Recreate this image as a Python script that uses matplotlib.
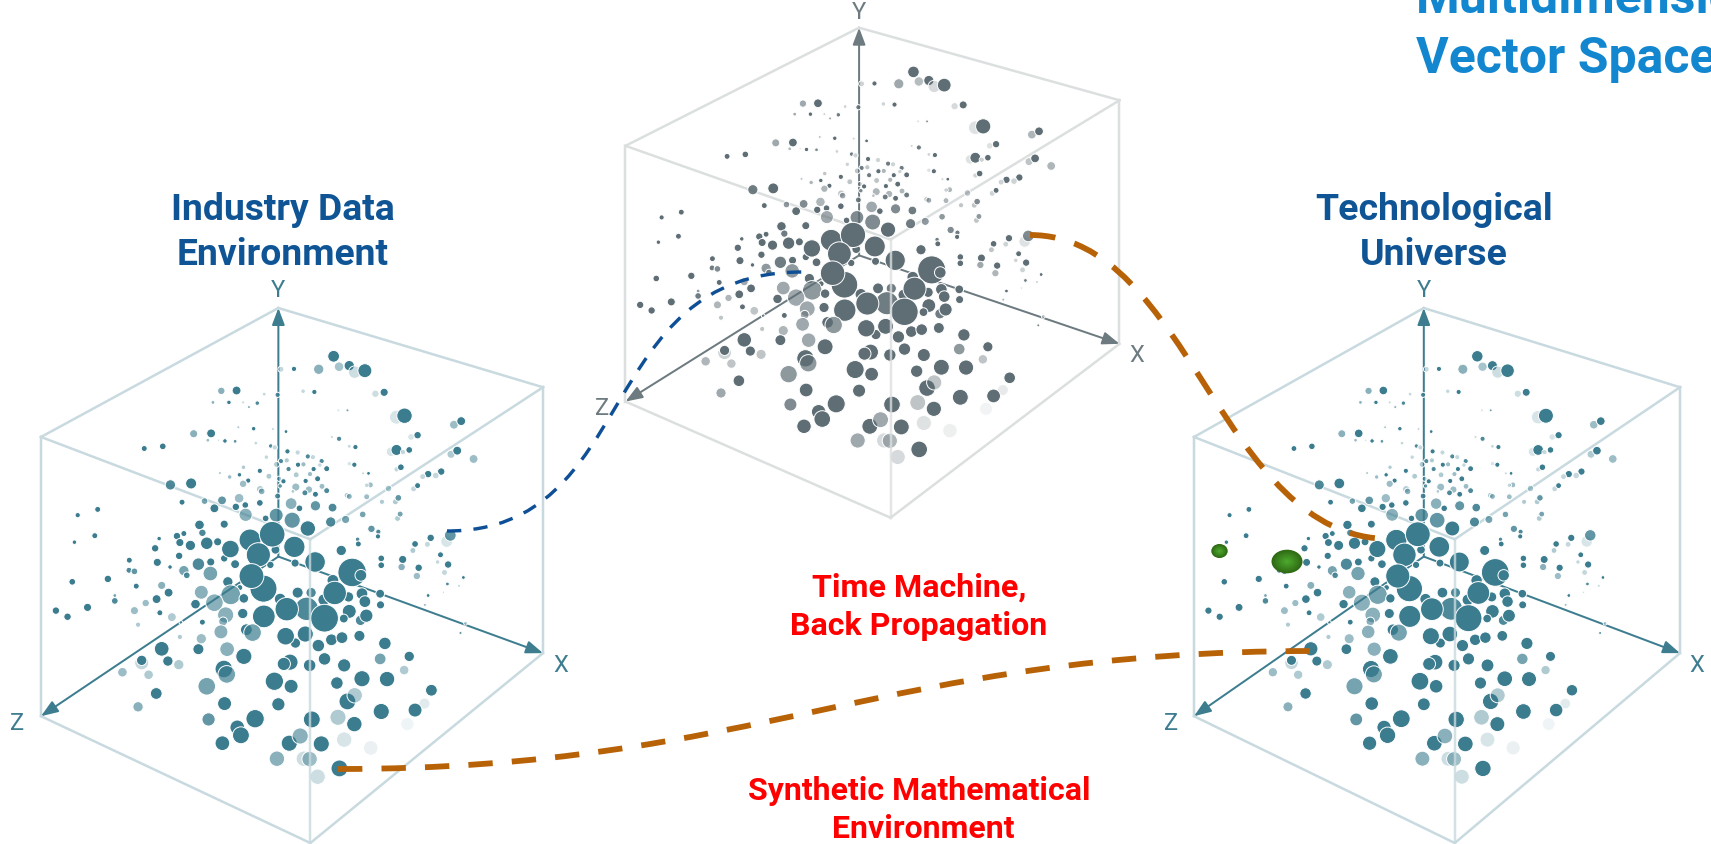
import numpy as np
import matplotlib
matplotlib.use('Agg')
import matplotlib.pyplot as plt
from matplotlib.patches import Ellipse, FancyArrowPatch, PathPatch
from matplotlib.path import Path

plt.rcParams['font.family'] = ['Roboto', 'DejaVu Sans']

# points: x, y, radius, opacity (cube spans 112-1493 by 80-1565)
points = [
    (917,214,14,1),(932,243,11,.45),(960,240,12,1),(975,258,15,.25),(1003,254,17,1),(876,250,12,.6),(808,249,5,1),(772,250,6,.3),
    (650,309,10,1),(608,310,8,.6),(726,319,3,.3),(763,321,5,.9),(833,311,4,.3),(864,313,5,1),(1056,314,9,1),(1032,318,8,.25),
    (585,342,3,.6),(629,342,4,1),(668,342,2,.3),(707,344,4,.9),(684,355,2,.6),(955,364,2,.7),(930,364,2,.2),
    (1090,383,17,.2),(1112,379,19,1),(1248,404,10,.5),(1268,394,10,1),(655,411,2,.4),(697,415,4,1),(750,416,2,.3),(786,423,3,1),
    (532,429,9,.6),(580,428,10,1),(571,447,3,.5),(618,449,4,1),(646,450,3,.8),(600,447,1,.3),(1130,438,7,.2),(1148,433,8,1),
    (912,438,2,.3),(932,443,5,.9),(703,455,3,.3),(396,470,6,1),(447,464,7,1),(744,463,4,.9),(755,467,5,.3),(960,464,3,.3),(977,466,5,1),
    (1075,479,11,.2),(1090,474,13,1),(1125,474,7,1),(1108,480,5,.3),(1240,486,9,.4),(1257,476,10,1),(1302,499,10,.5),
    (790,478,5,1),(818,481,5,.3),(846,492,5,.9),(860,494,5,.3),(732,494,4,.3),(772,505,5,.9),(788,503,5,.4),(760,514,6,.4),(884,505,5,.9),
    (834,514,5,.5),(819,515,5,1),(879,516,4,.3),(960,512,4,.2),(974,515,5,1),(1090,528,5,.3),(1102,522,7,1),(669,522,4,.4),(793,527,5,.9),
    (862,527,5,1),(898,526,6,1),(714,532,5,1),(852,541,5,.5),(814,543,6,.4),(1213,534,8,1),(1177,541,8,1),(1162,548,6,.3),(1198,545,7,.3),
    (1013,539,3,1),(998,539,2,.3),(604,538,2,.4),(658,543,4,1),(631,549,4,.5),(739,547,6,.4),(767,554,5,.4),(873,554,6,1),(682,559,5,1),
    (779,561,5,1),(840,560,5,1),(668,568,8,.5),(525,567,13,1),(468,571,12,.9),(1137,582,6,.3),(1148,573,6,1),(1018,571,6,.5),(1008,572,4,.3),
    (770,574,4,.8),(813,577,9,.5),(885,575,6,.5),(849,584,8,.5),(715,583,8,.4),(719,589,7,.6),(1068,581,7,.4),(805,589,3,.4),(838,593,6,.9),
    (898,587,6,.9),(867,597,6,1),(954,600,6,.4),(960,603,6,.6),(1008,604,6,.5),(1087,618,6,.4),(1095,607,7,.8),(1050,618,5,.4),(763,602,6,.9),
    (610,614,10,.8),(657,608,11,.5),(562,616,7,.7),(500,619,6,1),(714,621,7,1),(1093,664,6,.4),(1100,652,6,.7),
    (800,623,14,.6),(867,629,12,.8),(914,634,10,.9),(823,636,7,1),(674,627,7,1),(648,632,8,1),(589,636,10,1),(997,653,7,.7),(268,639,6,1),
    (213,655,5,1),(675,654,16,.6),(759,655,17,.8),(803,669,20,.8),(730,664,7,1),(950,667,9,.7),(909,674,12,.9),(548,682,11,1),(616,680,9,1),
    (846,692,19,1),(1021,693,8,.8),(1040,701,5,.9),(556,704,8,.9),(505,706,6,1),(486,713,8,1),(1039,714,5,1),(260,712,6,1),(1228,728,14,.2),
    (1238,711,14,.8),(1184,718,8,1),(437,720,4,1),(598,729,9,1),(568,733,15,1),(494,731,9,1),(204,730,4,1),(523,739,12,1),(983,722,4,.9),
    (985,735,6,1),(1141,735,7,1),(1175,736,6,.3),(426,747,8,1),(1135,753,6,.4),(757,751,10,1),(1211,765,6,1),(355,780,6,1),(492,768,8,1),
    (579,785,9,1),(432,786,9,1),(1048,775,7,1),(1107,778,9,1),(1203,785,4,.3),(1232,792,8,1),(545,791,15,.9),(616,775,8,1),(646,791,10,1),
    (811,788,9,1),(743,793,8,1),(1048,794,7,1),(1104,799,8,.6),(1151,801,8,1),(467,799,4,1),(354,808,6,.9),(369,811,7,.8),(505,809,12,.7),
    (513,822,7,.9),(578,817,18,.7),(1222,814,6,.3),(1146,824,8,.5),(1274,828,3,1),(296,832,8,1),(198,840,7,1),(626,840,12,1),(915,836,14,1),
    (1230,846,3,.9),(374,852,6,1),(444,850,9,.6),(1262,851,2,.3),(1219,869,1,.3),(463,870,10,1),(659,856,6,1),
    (687,724,28,1),(748,708,33,1),(809,743,27,1),(633,749,22,1),(938,753,12,1),(710,765,31,1),(866,785,26,1),(968,814,37,1),(992,822,14,1),
    (724,859,35,1),(691,824,32,1),(553,869,17,.6),(634,876,25,.7),(770,888,14,1),(818,870,13,1),(855,870,12,.9),(995,873,14,1),(1045,873,10,1),
    (1177,878,3,1),(315,878,3,.7),(430,888,10,1),(315,893,7,.9),(400,899,8,.5),(670,886,11,1),(958,882,12,1),(890,890,14,1),(1003,895,14,1),
    (920,871,30,1),(537,902,11,1),(589,898,22,.6),(1046,904,9,1),(1168,904,2,.5),(240,911,9,1),(153,920,8,1),(369,920,9,.5),(185,937,8,1),
    (439,926,6,1),(843,915,30,.9),(788,916,30,1),(725,936,29,1),(960,922,17,1),(667,928,12,1),(620,932,20,.6),(991,947,12,.9),(945,942,10,1),
    (1007,934,16,1),(892,941,36,1),(472,938,10,.4),(556,952,6,1),(1280,955,3,.4),(497,953,3,.3),(613,950,10,.6),(379,959,5,.4),(607,979,17,.6),
    (677,973,14,1),(694,981,22,.7),(1266,982,2,.8),(812,1010,12,1),(785,991,22,1),(839,985,20,1),(911,1001,14,1),(940,995,14,1),(988,990,13,1),
    (494,993,5,.4),(553,998,12,.5),(875,1017,15,1),(1058,1011,15,1),(444,1026,18,1),(545,1027,13,1),(624,1027,18,.6),
    (670,1047,20,1),(892,1054,15,1),(1125,1047,12,1),(1045,1054,14,.7),(389,1065,17,.3),(389,1058,12,1),(461,1060,12,1),(491,1070,12,.4),
    (797,1063,20,1),(780,1068,16,1),(851,1072,15,1),(946,1072,16,1),(615,1082,22,1),(623,1097,22,.7),(336,1091,11,.5),(1111,1085,11,.4),(408,1098,11,.4),
    (754,1116,23,1),(800,1130,17,1),(995,1109,20,1),(1064,1110,19,1),(926,1121,15,1),(568,1130,22,.7),(1186,1141,14,1),(429,1150,14,1),
    (955,1172,21,1),(975,1155,19,.4),(617,1178,17,1),(765,1180,16,1),(379,1187,12,.6),(1167,1178,13,.15),(1048,1200,20,1),(1141,1196,17,1),
    (701,1220,23,1),(857,1222,21,1),(929,1216,20,.4),(573,1222,16,.8),(974,1235,19,1),(1120,1235,16,.08),(652,1244,18,1),(662,1266,21,1),
    (795,1288,20,1),(825,1268,20,.6),(946,1278,19,.2),(883,1290,20,1),(611,1288,18,1),(1019,1301,18,.1),(761,1331,19,.6),(835,1331,19,.25),
    (851,1332,19,.5),(933,1358,21,1),(873,1381,19,.25),
]
point_x = [p[0] for p in points]
point_y = [p[1] for p in points]
point_r = [p[2] for p in points]
point_alpha = [p[3] for p in points]

# left, top, width, height of each cube in the picture
panels = {
    'left': (41, 309, 502, 535),
    'centre': (625.5, 28.7, 494, 490),
    'right': (1194, 309, 486, 535),
}
# points, axes, frame
panel_colors = {
    'left': ('#3b7c8e', '#3d7d8f', '#c8dadf'),
    'centre': ('#5f6e75', '#6d7b81', '#dcdfe0'),
    'right': ('#3b7c8e', '#3d7d8f', '#c8dadf'),
}

# dashed connectors, four bezier nodes each
blue_curve = [(447, 532), (640, 532), (594, 273), (802, 273)]
orange_top = [(1030, 236), (1190, 236), (1220, 540), (1390, 540)]
orange_low = [(338, 770), (760, 770), (880, 652), (1315, 652)]

fig = plt.figure(figsize=(17.11, 8.45), dpi=100)
ax = fig.add_axes([0, 0, 1, 1])
ax.set_xlim(0, 1711)
ax.set_ylim(845, 0)
ax.axis('off')
PX = 0.72  # one pixel in points


def draw_cube(name):
    left, top, w, h = panels[name]
    main, axis_col, frame = panel_colors[name]

    def tx(v):
        return left + (np.asarray(v, dtype=float) - 112) * w / 1381

    def ty(v):
        return top + (np.asarray(v, dtype=float) - 80) * h / 1485

    apex, rt, lt, ft = (765, 80), (1493, 300), (112, 438), (853, 722)
    bl, br, bot = (112, 1213), (1493, 1038), (853, 1565)
    origin = (765, 770)
    for a, b in [(apex, rt), (apex, lt), (lt, ft), (rt, ft), (lt, bl), (rt, br), (bl, bot), (br, bot)]:
        ax.plot(tx([a[0], b[0]]), ty([a[1], b[1]]), color=frame, lw=2.5 * PX, zorder=1)

    for tip in (apex, br, bl):
        ax.add_patch(FancyArrowPatch((tx(origin[0]), ty(origin[1])), (tx(tip[0]), ty(tip[1])),
                                     arrowstyle='-|>,head_length=0.85,head_width=0.32', mutation_scale=12,
                                     shrinkA=0, shrinkB=0, color=axis_col, lw=2 * PX, zorder=2))

    rgba = np.zeros((len(point_x), 4))
    rgba[:, :3] = matplotlib.colors.to_rgb(main)
    rgba[:, 3] = point_alpha
    # the white rim eats into the marker, so the diameter is padded
    d = (2 * np.array(point_r) * w / 1381 + 1.6) * PX
    ax.scatter(tx(point_x), ty(point_y), s=d ** 2, c=rgba, edgecolors='white', linewidths=0.7, zorder=3)

    # front edge sits over the points
    ax.plot(tx([ft[0], bot[0]]), ty([ft[1], bot[1]]), color=frame, lw=2.5 * PX, alpha=0.8, zorder=4)

    for s, lx, ly in [('Y', 765, 30), ('X', 1542, 1070), ('Z', 47, 1230)]:
        ax.text(tx(lx), ty(ly), s, color=axis_col, fontsize=17, ha='center', va='center', zorder=5)


for name in panels:
    draw_cube(name)


def dashed(nodes, color, width, dash):
    path = Path(nodes, [Path.MOVETO, Path.CURVE4, Path.CURVE4, Path.CURVE4])
    ax.add_patch(PathPatch(path, fill=False, edgecolor=color, lw=width * PX,
                           linestyle=(0, dash), capstyle='butt', zorder=6))


dashed(blue_curve, '#0f4f96', 3.4, (4.2, 3.6))
dashed(orange_top, '#b86207', 5.8, (4.4, 3.4))
dashed(orange_low, '#b86207', 5.8, (4.2, 3.3))

# green blobs in the right cube
for cx, cy, rx, ry in [(1287, 562.5, 15.5, 11.8), (1219.5, 552, 8.2, 7)]:
    for f in np.linspace(1, 0.1, 14):
        c = (1 - f) * np.array(matplotlib.colors.to_rgb('#4fae30')) + f * np.array(matplotlib.colors.to_rgb('#2f6a14'))
        ax.add_patch(Ellipse((cx, cy), 2 * rx * f, 2 * ry * f, color=c, lw=0, zorder=7))

titles = [
    ('Industry Data', 283, 220, '#0f5596', 26.8),
    ('Environment', 283, 265, '#0f5596', 26.8),
    ('Technological', 1434, 220, '#0f5596', 26.9),
    ('Universe', 1434, 265, '#0f5596', 26.9),
    ('Time Machine,', 919, 597, '#ff0000', 23.2),
    ('Back Propagation', 919, 635, '#ff0000', 23.2),
    ('Synthetic Mathematical', 919, 800, '#ff0000', 23),
    ('Environment', 923, 838, '#ff0000', 23),
]
for s, x, y, col, size in titles:
    ax.text(x, y, s, color=col, fontsize=size, fontweight='bold', ha='center', va='baseline', zorder=8)
ax.text(1416, 13, 'Multidimensional', color='#1287d0', fontsize=36, fontweight='bold', va='baseline', zorder=8)
ax.text(1416, 73, 'Vector Space', color='#1287d0', fontsize=36, fontweight='bold', va='baseline', zorder=8)

fig.savefig('out.png', dpi=100)
